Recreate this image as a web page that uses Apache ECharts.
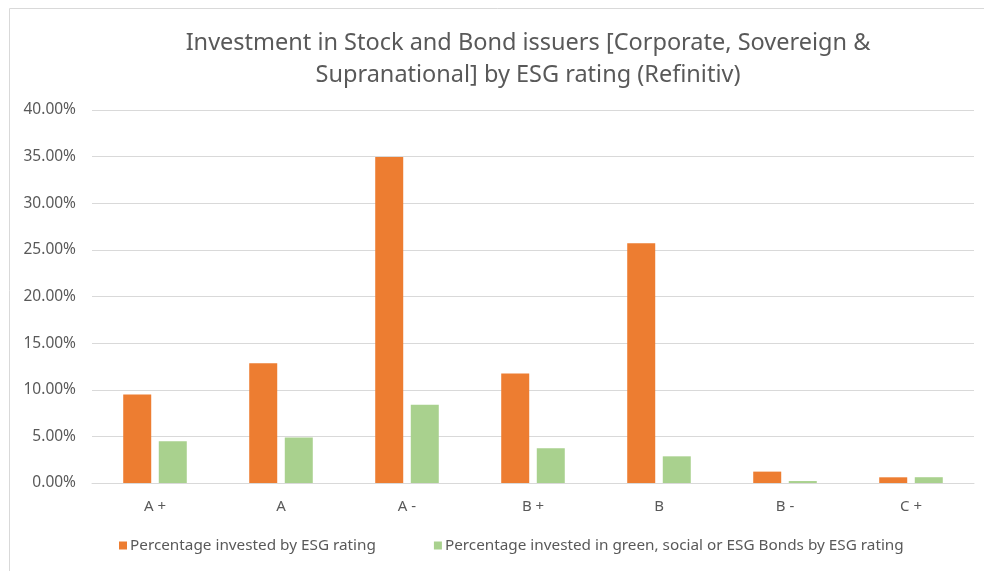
<!DOCTYPE html>
<html>
<head>
<meta charset="utf-8">
<script src="https://cdn.jsdelivr.net/npm/echarts@6/dist/echarts.min.js"></script>
<style>
  html, body { margin: 0; padding: 0; background: #fff; }
  #chart { width: 984px; height: 571px; }
</style>
</head>
<body>
<div id="chart"></div>
<script>
// ratings on the x axis
const ratings = ['A +', 'A', 'A -', 'B +', 'B', 'B -', 'C +']
// % invested by ESG rating
const investedPct = [9.5, 12.85, 34.95, 11.75, 25.7, 1.22, 0.61]
// % invested in green, social or ESG bonds
const greenPct = [4.47, 4.87, 8.4, 3.72, 2.86, 0.21, 0.62]
const yTicks = [0, 5, 10, 15, 20, 25, 30, 35, 40]

const chart = echarts.init(document.getElementById('chart'))
const labelColor = '#595959'
const font = 'Noto Sans'

const option = {
  animation: false,
  title: {
    text: 'Investment in Stock and Bond issuers [Corporate, Sovereign &\nSupranational] by ESG rating (Refinitiv)',
    left: 523,
    top: 22,
    textAlign: 'center',
    textStyle: {
      color: labelColor,
      fontFamily: font,
      fontWeight: 'normal',
      fontSize: 23.5,
      lineHeight: 32,
    },
  },
  graphic: [{
    type: 'rect',
    shape: { x: 9.5, y: 8.5, width: 1000, height: 600 },
    style: { fill: 'none', stroke: '#d9d9d9', lineWidth: 1 },
    silent: true,
  }],
  legend: {
    bottom: 13,
    left: 114,
    itemWidth: 8,
    itemHeight: 8,
    itemGap: 58,
    icon: 'rect',
    textStyle: {
      color: labelColor,
      fontFamily: font,
      fontSize: 15.3,
      padding: [0, 0, 0, -2],
    },
  },
  grid: {
    left: 92,
    right: 10,
    top: 110,
    bottom: 88,
    containLabel: false,
  },
  xAxis: {
    type: 'category',
    data: ratings,
    axisLine: { show: true, lineStyle: { color: '#d9d9d9' } },
    axisTick: { show: false },
    axisLabel: {
      color: labelColor,
      fontFamily: font,
      fontSize: 15,
      margin: 16,
    },
  },
  yAxis: {
    type: 'value',
    min: yTicks[0],
    max: yTicks[yTicks.length - 1],
    interval: 5,
    axisLine: { show: false },
    axisTick: { show: false },
    splitLine: { lineStyle: { color: '#d9d9d9' } },
    axisLabel: {
      color: labelColor,
      fontFamily: font,
      fontSize: 15.5,
      margin: 16,
      formatter: v => v.toFixed(2) + '%',
    },
  },
  series: [{
    name: 'Percentage invested by ESG rating',
    type: 'bar',
    data: investedPct,
    barWidth: 28,
    barGap: '27%',
    itemStyle: { color: '#ED7D31' },
  }, {
    name: 'Percentage invested in green, social or ESG Bonds by ESG rating',
    type: 'bar',
    data: greenPct,
    barWidth: 28,
    itemStyle: { color: '#A9D18E' },
  }],
}
chart.setOption(option)
</script>
</body>
</html>
